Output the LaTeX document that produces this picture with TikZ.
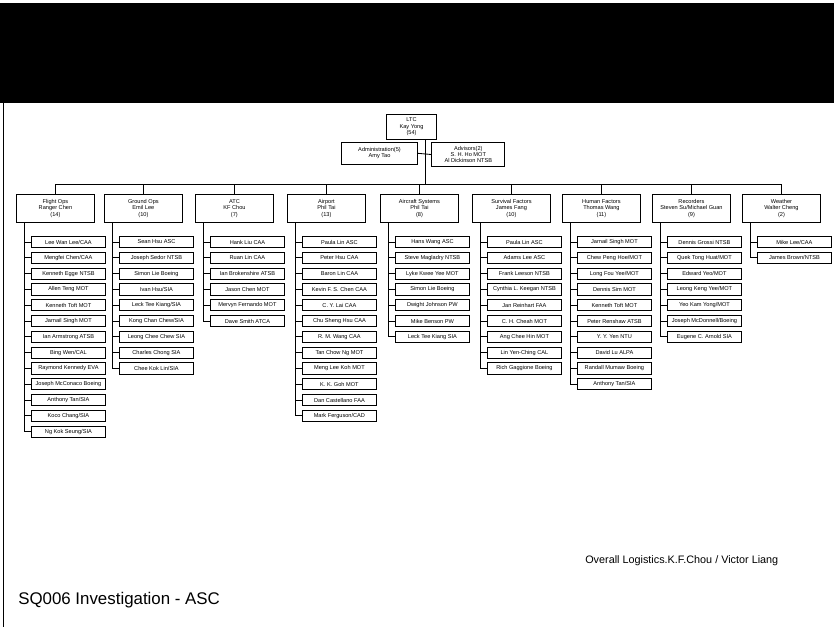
\documentclass[tikz,border=0pt]{standalone}
\usepackage{fontspec}
\setmainfont{Liberation Sans}

\newcommand{\memberfont}{\fontsize{4}{4.6}\selectfont}
\newcommand{\deptfont}{\fontsize{4}{4.6}\selectfont}

\tikzset{
  topbox/.style={draw, line width=.6pt, align=center, font=\deptfont, inner sep=0pt},
  dept/.style={topbox, minimum width=1.95cm, minimum height=.7cm, anchor=north west},
  member/.style={draw, line width=.6pt, font=\memberfont, inner sep=0pt,
                 minimum width=1.85cm, minimum height=.28cm, anchor=west},
  link/.style={line width=.6pt},
}

% une colonne : #1 nom, #2 bord gauche, #3 titre, #4 membres
\newcommand{\deptcol}[4]{%
  \node[dept] (#1) at (#2,194) {#3};
  \draw[link] (#1.north) -- (#1.north |- hub);
  \coordinate (#1-t) at (#2+8,222);
  \foreach \who [count=\k] in {#4}{
    \node[member] (#1-\k) at (#2+15,{242+15.8*(\k-1)}) {\who};
    \draw[link] (#1-t) |- (#1-\k.west);
  }
}

\begin{document}
\begin{tikzpicture}  % ------ SQ006 organisation -------
    [x={(0.025cm,0cm)},y={(0cm,-0.025cm)}]

  \useasboundingbox (0,0) rectangle (834,627);
  \fill (0,3) rectangle (834,103);   % bandeau du titre (scan)
  \draw[link] (3,103) -- (3,627);

  \node[topbox, minimum width=1.23cm, minimum height=.64cm] (ltc) at (411.5,127) {LTC\\Kay Yong\\(54)};
  \node[topbox, minimum width=1.89cm, minimum height=.55cm] (admin) at (379.5,153.3) {Administration(5)\\Amy Tao};
  \node[topbox, minimum width=1.83cm, minimum height=.61cm] (advisors) at (468.3,154.5) {Advisors(2)\\S. H. Ho MOT\\Al Dickinson NTSB};
  \coordinate (hub) at (425,184);

  \draw[link] (ltc.south -| hub) -- (hub);
  \draw[link] (admin.east) -- (advisors.west);

  \deptcol{fltops}{16}{Flight Ops\\Ranger Chen\\(14)}{Lee Wan Lee/CAA, Mengfei Chen/CAA, Kenneth Egge NTSB,
    Allen Teng MOT, Kenneth Toft MOT, Jarnail Singh MOT, Ian Armstrong ATSB, Bing Wen/CAL,
    Raymond Kennedy EVA, Joseph McConaco Boeing, Anthony Tan/SIA, Koco Chang/SIA, Ng Kok Seung/SIA}
  \deptcol{grdops}{104}{Ground Ops\\Emil Lee\\(10)}{Sean Hsu ASC, Joseph Sedor NTSB, Simon Lie Boeing,
    Ivan Hsu/SIA, Leck Tee Kiang/SIA, Kong Chan Chew/SIA, Leong Chee Chew SIA, Charles Chong SIA, Chee Kok Lin/SIA}
  \deptcol{atc}{195}{ATC\\KF Chou\\(7)}{Hank Liu CAA, Ruan Lin CAA, Ian Brokenshire ATSB,
    Jason Chen MOT, Mervyn Fernando MOT, Dave Smith ATCA}
  \deptcol{airport}{287}{Airport\\Phil Tai\\(13)}{Paula Lin ASC, Peter Hsu CAA, Baron Lin CAA,
    Kevin F. S. Chen CAA, C. Y. Lai CAA, Chu Sheng Hsu CAA, R. M. Wang CAA, Tan Chow Ng MOT,
    Meng Lee Koh MOT, K. K. Goh MOT, Dan Castellano FAA, Mark Ferguson/CAD}
  \deptcol{acsys}{380}{Aircraft Systems\\Phil Tai\\(8)}{Hans Wang ASC, Steve Magladry NTSB,
    Lyke Kwee Yee MOT, Simon Lie Boeing, Dwight Johnson PW, Mike Benson PW, Leck Tee Kiang SIA}
  \deptcol{survival}{472}{Survival Factors\\James Fang\\(10)}{Paula Lin ASC, Adams Lee ASC,
    Frank Leeson NTSB, Cynthia L. Keegan NTSB, Jan Reinhart FAA, C. H. Cheah MOT, Ang Chee Hin MOT,
    Lin Yen-Ching CAL, Rich Gaggione Boeing}
  \deptcol{human}{562}{Human Factors\\Thomas Wang\\(11)}{Jarnail Singh MOT, Chew Peng Hoe/MOT,
    Long Fou Yee/MOT, Dennis Sim MOT, Kenneth Toft MOT, Peter Renshaw ATSB, Y. Y. Yen NTU,
    David Lu ALPA, Randall Mumaw Boeing, Anthony Tan/SIA}
  \deptcol{recorders}{652}{Recorders\\Steven Su/Michael Guan\\(9)}{Dennis Grossi NTSB,
    Quek Tong Huat/MOT, Edward Yeo/MOT, Leong Keng Yee/MOT, Yeo Kam Yong/MOT,
    Joseph McDonnell/Boeing, Eugene C. Arnold SIA}
  \deptcol{weather}{742}{Weather\\Walter Cheng\\(2)}{Mike Lee/CAA, James Brown/NTSB}

  \draw[link] (fltops.north |- hub) -- (weather.north |- hub);  % barre principale

  \node[anchor=west, font=\fontsize{7.7}{9}\selectfont, inner sep=0pt] (logist) at (585,561)
      {Overall Logistics.K.F.Chou / Victor Liang};
  \node[anchor=west, font=\fontsize{12}{14}\selectfont, inner sep=0pt] (title) at (18,600)
      {SQ006 Investigation - ASC};
\end{tikzpicture}
\end{document}
